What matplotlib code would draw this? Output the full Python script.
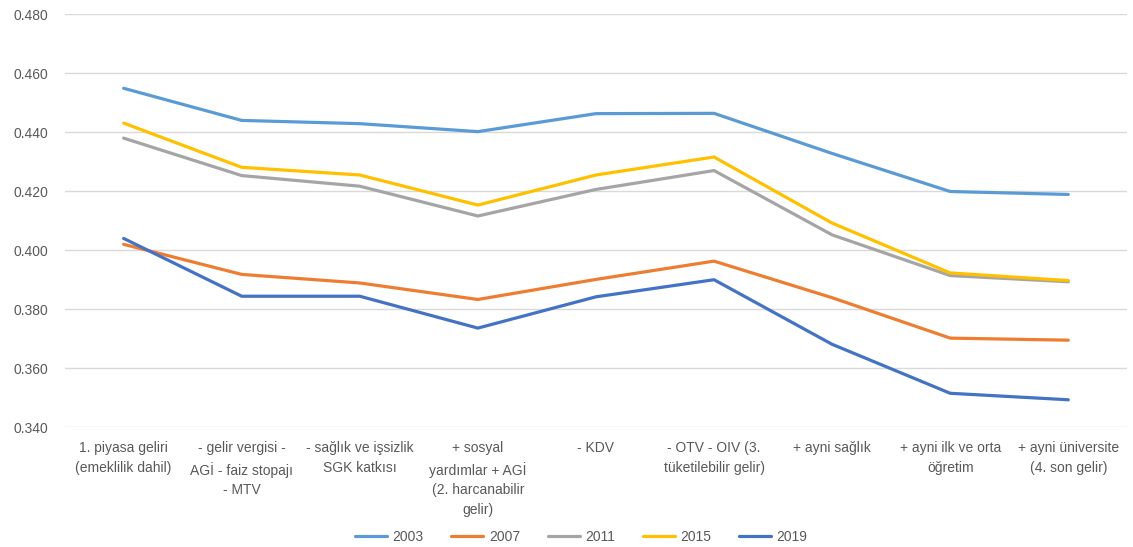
import numpy as np
import matplotlib.pyplot as plt
from matplotlib.ticker import FormatStrFormatter

plt.rcParams['font.family'] = ['Liberation Sans', 'DejaVu Sans']

# kategoriler (gelir tanımları)
categories = [
    "1. piyasa geliri\n(emeklilik dahil)",
    "- gelir vergisi -\nAGİ - faiz stopajı\n- MTV",
    "- sağlık ve işsizlik\nSGK katkısı",
    "+ sosyal\nyardımlar + AGİ\n(2. harcanabilir\ngelir)",
    "- KDV",
    "- OTV - OIV (3.\ntüketilebilir gelir)",
    "+ ayni sağlık",
    "+ ayni ilk ve orta\nöğretim",
    "+ ayni üniversite\n(4. son gelir)",
]

# Gini değerleri
g2003 = [0.4549, 0.4440, 0.4429, 0.4402, 0.4463, 0.4464, 0.4328, 0.4199, 0.4189]
g2007 = [0.4020, 0.3918, 0.3889, 0.3833, 0.3901, 0.3963, 0.3839, 0.3702, 0.3695]
g2011 = [0.4380, 0.4253, 0.4217, 0.4116, 0.4206, 0.4270, 0.4052, 0.3914, 0.3893]
g2015 = [0.4431, 0.4281, 0.4255, 0.4153, 0.4255, 0.4316, 0.4092, 0.3923, 0.3897]
g2019 = [0.4040, 0.3844, 0.3844, 0.3736, 0.3842, 0.3900, 0.3681, 0.3515, 0.3493]

years = ['2003', '2007', '2011', '2015', '2019']
series = [g2003, g2007, g2011, g2015, g2019]
colors = ['#5B9BD5', '#ED7D31', '#A5A5A5', '#FFC000', '#4472C4']

fig = plt.figure(figsize=(11.33, 5.47), dpi=100, facecolor='w')
ax = fig.add_axes([0.057, 0.219, 0.938, 0.755])

x = np.arange(len(categories))
for s, c, yr in zip(series, colors, years):
    ax.plot(x, s, color=c, lw=2.3, label=yr, solid_capstyle='round', zorder=3)

ax.set_xlim(-0.5, len(categories) - 0.5)
ax.set_ylim(0.34, 0.48)
ax.set_yticks(np.arange(0.34, 0.4801, 0.02))
ax.yaxis.set_major_formatter(FormatStrFormatter('%.3f'))
ax.grid(axis='y', color='#D9D9D9', lw=1)
ax.set_axisbelow(True)
for sp in ax.spines.values():
    sp.set_visible(False)

ax.set_xticks(x)
ax.set_xticklabels(categories, linespacing=1.5, va='top')
ax.tick_params(axis='both', length=0, labelsize=10, colors='#595959')
ax.tick_params(axis='x', pad=10)
ax.tick_params(axis='y', pad=12)

fig.legend(loc='lower center', bbox_to_anchor=(0.513, -0.018), ncol=5, frameon=False,
           fontsize=10, handlelength=2.3, columnspacing=2.0, handletextpad=0.4,
           labelcolor='#595959')

plt.savefig('out.png', dpi=100)
